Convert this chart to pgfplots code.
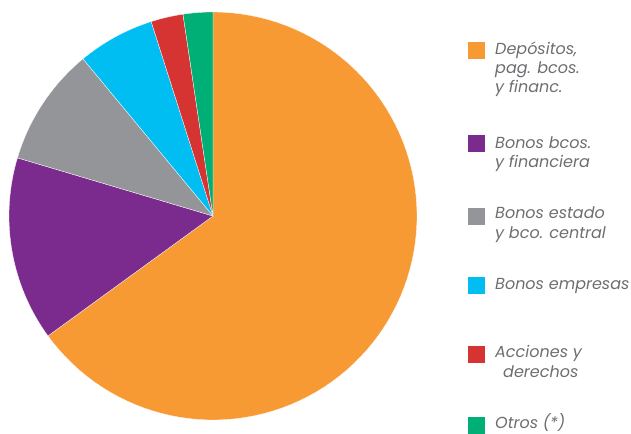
\documentclass[border=0pt]{standalone}
\usepackage{pgfplots}
\pgfplotsset{compat=1.18}
\usepackage{fontspec}
\setmainfont{Poppins}

\definecolor{pieA}{HTML}{F79A33}
\definecolor{pieB}{HTML}{7B2A8E}
\definecolor{pieC}{HTML}{939598}
\definecolor{pieD}{HTML}{00BDF2}
\definecolor{pieE}{HTML}{D63333}
\definecolor{pieF}{HTML}{00AF75}
\definecolor{legtext}{HTML}{6D6E71}

\begin{document}
\begin{tikzpicture}[x=1bp,y=1bp]
\useasboundingbox (0,0) rectangle (631,434);
\begin{axis}[
    at={(9bp,14bp)}, anchor=south west,
    scale only axis, width=408bp, height=408bp,
    xmin=-1, xmax=1, ymin=-1, ymax=1,
    hide axis,
]
% shares in percent, clockwise from 12 o'clock
\def\cum{90}
\pgfplotsforeachungrouped \p/\c in {65.0/pieA, 14.6/pieB, 9.4/pieC, 6.1/pieD, 2.55/pieE, 2.35/pieF}{%
    \pgfmathsetmacro\a{\cum}
    \pgfmathsetmacro\b{\cum-3.6*\p}
    \edef\slice{\noexpand\addplot[fill=\c, draw=white, line width=0.3pt, domain=\b:\a, samples=90]
        ({cos(x)},{sin(x)}) -- (axis cs:0,0) -- cycle;}
    \slice
    \global\let\cum\b
}
\end{axis}

% legend
\begin{scope}[every node/.style={anchor=base west, inner sep=0pt, text=legtext,
    font=\fontsize{16bp}{19bp}\selectfont\itshape}]
\fill[pieA] (468,375) rectangle +(17,17);
\node at (495,379) {Depósitos,};
\node at (495,360) {pag. bcos.};
\node at (495,341) {y financ.};

\fill[pieB] (468,282) rectangle +(17,17);
\node at (495,285) {Bonos bcos.};
\node at (495,266) {y financiera};

\fill[pieC] (468,209) rectangle +(17,17);
\node at (495,215) {Bonos estado};
\node at (495,195) {y bco. central};

\fill[pieD] (468,140) rectangle +(17,17);
\node at (495,144) {Bonos empresas};

\fill[pieE] (468,71) rectangle +(17,17);
\node at (495,76) {Acciones y};
\node at (503,56) {derechos};

\fill[pieF] (468,0) rectangle +(17,17);
\node at (495,5) {Otros (*)};
\end{scope}
\end{tikzpicture}
\end{document}
